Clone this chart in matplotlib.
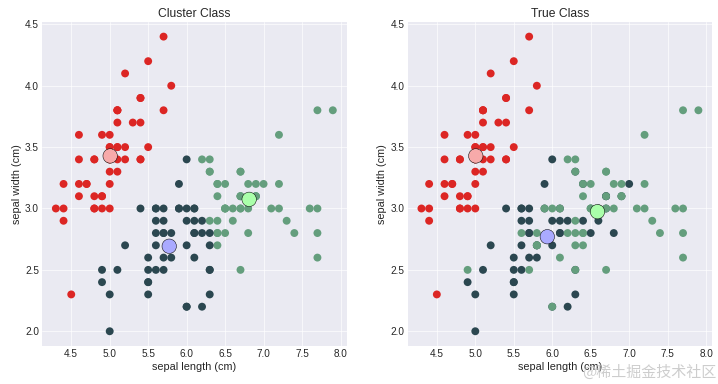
import numpy as np
import matplotlib
matplotlib.use("Agg")
import matplotlib.pyplot as plt

# iris sepal length / width (cm)
sepal_length = [5.1,4.9,4.7,4.6,5.0,5.4,4.6,5.0,4.4,4.9,5.4,4.8,4.8,4.3,5.8,5.7,5.4,5.1,5.7,5.1,5.4,5.1,4.6,5.1,4.8,5.0,5.0,5.2,5.2,4.7,4.8,5.4,5.2,5.5,4.9,5.0,5.5,4.9,4.4,5.1,5.0,4.5,4.4,5.0,5.1,4.8,5.1,4.6,5.3,5.0,
                7.0,6.4,6.9,5.5,6.5,5.7,6.3,4.9,6.6,5.2,5.0,5.9,6.0,6.1,5.6,6.7,5.6,5.8,6.2,5.6,5.9,6.1,6.3,6.1,6.4,6.6,6.8,6.7,6.0,5.7,5.5,5.5,5.8,6.0,5.4,6.0,6.7,6.3,5.6,5.5,5.5,6.1,5.8,5.0,5.6,5.7,5.7,6.2,5.1,5.7,
                6.3,5.8,7.1,6.3,6.5,7.6,4.9,7.3,6.7,7.2,6.5,6.4,6.8,5.7,5.8,6.4,6.5,7.7,7.7,6.0,6.9,5.6,7.7,6.3,6.7,7.2,6.2,6.1,6.4,7.2,7.4,7.9,6.4,6.3,6.1,7.7,6.3,6.4,6.0,6.9,6.7,6.9,5.8,6.8,6.7,6.7,6.3,6.5,6.2,5.9]
sepal_width = [3.5,3.0,3.2,3.1,3.6,3.9,3.4,3.4,2.9,3.1,3.7,3.4,3.0,3.0,4.0,4.4,3.9,3.5,3.8,3.8,3.4,3.7,3.6,3.3,3.4,3.0,3.4,3.5,3.4,3.2,3.1,3.4,4.1,4.2,3.1,3.2,3.5,3.6,3.0,3.4,3.5,2.3,3.2,3.5,3.8,3.0,3.8,3.2,3.7,3.3,
               3.2,3.2,3.1,2.3,2.8,2.8,3.3,2.4,2.9,2.7,2.0,3.0,2.2,2.9,2.9,3.1,3.0,2.7,2.2,2.5,3.2,2.8,2.5,2.8,2.9,3.0,2.8,3.0,2.9,2.6,2.4,2.4,2.7,2.7,3.0,3.4,3.1,2.3,3.0,2.5,2.6,3.0,2.6,2.3,2.7,3.0,2.9,2.9,2.5,2.8,
               3.3,2.7,3.0,2.9,3.0,3.0,2.5,2.9,2.5,3.6,3.2,2.7,3.0,2.5,2.8,3.2,3.0,3.8,2.6,2.2,3.2,2.8,2.8,2.7,3.3,3.2,2.8,3.0,2.8,3.0,2.8,3.8,2.8,2.8,2.6,3.0,3.4,3.1,3.0,3.1,3.1,3.1,2.7,3.2,3.3,3.0,2.5,3.0,3.4,3.0]

cluster_labels = "000000000000000000000000000000000000000000000000002221212121111112111111112222111111112111111111111121222212222221122221212122112222211222122212221221"
true_labels = "0" * 50 + "1" * 50 + "2" * 50

cluster_centers_x = [5.006, 5.7736, 6.8128]
cluster_centers_y = [3.428, 2.6925, 3.0745]
true_centers_x = [5.006, 5.936, 6.588]
true_centers_y = [3.428, 2.770, 2.974]

colors = np.array(['#DC2624', '#2B4750', '#649E7D'])
center_colors = ['#F7AAAA', '#AAAAFF', '#AAFFAA']

plt.style.use('seaborn-v0_8-darkgrid')

x = np.array(sepal_length)
y = np.array(sepal_width)

fig, axes = plt.subplots(1, 2, figsize=(718 / 60, 384 / 60), dpi=60)
fig.subplots_adjust(left=0.0585, right=0.992, bottom=0.099, top=0.943, wspace=0.2)

panels = [
    ("Cluster Class", cluster_labels, cluster_centers_x, cluster_centers_y),
    ("True Class", true_labels, true_centers_x, true_centers_y),
]
for ax, (title, labels, cx, cy) in zip(axes, panels):
    lab = np.array([int(c) for c in labels])
    ax.scatter(x, y, c=colors[lab], s=90, linewidths=0)
    ax.scatter(cx, cy, c=center_colors, s=300, edgecolors='k', linewidths=0.6)
    ax.set_title(title, fontsize=14.5)
    ax.set_xlabel('sepal length (cm)', fontsize=13)
    ax.set_ylabel('sepal width (cm)', fontsize=13)
    ax.tick_params(labelsize=12)

fig.text(0.998, 0.012, '@稀土掘金技术社区', ha='right', va='bottom', fontsize=18,
         color='#c8c8c8', alpha=0.9, family=['Noto Sans CJK SC', 'DejaVu Sans'])
fig.savefig('out.png', dpi=60)
